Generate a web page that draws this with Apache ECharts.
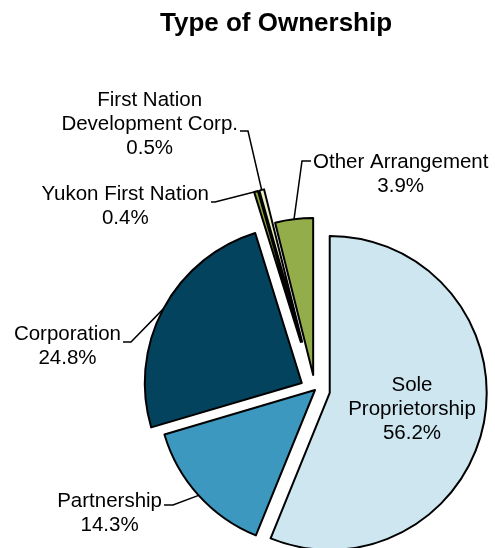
<!DOCTYPE html>
<html>
<head>
<meta charset="utf-8">
<script src="https://cdn.jsdelivr.net/npm/echarts@6/dist/echarts.min.js"></script>
<style>
  html, body { margin: 0; padding: 0; background: #fff; }
  #chart { width: 495px; height: 548px; }
</style>
</head>
<body>
<div id="chart"></div>
<script>
// data, clockwise from 12 o'clock
const names = ["Sole\nProprietorship", "Partnership", "Corporation", "Yukon First Nation", "First Nation\nDevelopment Corp.", "Other Arrangement"];
const values = [56.2, 14.3, 24.8, 0.4, 0.5, 3.9];
const colors = ["#cde6f0", "#3d98bf", "#03435e", "#8fa83c", "#e8eec0", "#93ad4a"];
const explode = [15, 0, 15, 50, 50, 15];

// label placement (text block anchor + where the leader line meets it)
const spots = [
  { x: 412, y: 409, align: "center" },
  { x: 162, y: 513, align: "right", lineY: 505, elbow: 9 },
  { x: 121, y: 346, align: "right", lineY: 342, elbow: 8 },
  { x: 209, y: 206, align: "right", lineY: 202, elbow: 4 },
  { x: 238, y: 124, align: "right", lineY: 131, elbow: 8 },
  { x: 313, y: 174, align: "left", lineY: 161, elbow: 9 }
];

const center = [315, 390];
const radius = 157;
const font = "Liberation Sans, Arial, sans-serif";

const total = values.reduce((a, b) => a + b, 0);
let acc = 0;

const series = values.map((v, i) => {
  const mid = (acc + v / 2) / total * 2 * Math.PI;
  acc += v;
  const cx = center[0] + explode[i] * Math.sin(mid);
  const cy = center[1] - explode[i] * Math.cos(mid);
  return {
    type: "pie",
    center: [cx, cy],
    radius: radius,
    startAngle: 90,
    clockwise: true,
    silent: true,
    animation: false,
    avoidLabelOverlap: false,
    label: {
      position: i === 0 ? "inside" : "outside",
      formatter: p => p.name.split("\n").concat(p.value.toFixed(1) + "%").map(s => "{c|" + s + "}").join("\n"),
      rich: {
        c: { align: "center", fontFamily: font, fontSize: 20.5, lineHeight: 24, color: "#000" }
      }
    },
    labelLine: { lineStyle: { color: "#000", width: 1.5 } },
    labelLayout: function (p) {
      const s = spots[p.dataIndex];
      const out = { x: s.x, y: s.y, align: s.align, verticalAlign: "middle" };
      if (s.lineY != null && p.labelLinePoints) {
        const side = s.align === "right" ? 1 : -1;
        const endX = s.x + side * 2;
        out.labelLinePoints = [p.labelLinePoints[0], [endX + side * s.elbow, s.lineY], [endX, s.lineY]];
      }
      return out;
    },
    data: values.map((w, j) => ({
      name: names[j],
      value: w,
      itemStyle: j === i
        ? { color: colors[j], borderColor: "#000", borderWidth: 2 }
        : { color: "rgba(0,0,0,0)", borderWidth: 0 },
      label: { show: j === i },
      labelLine: { show: j === i && i !== 0 }
    }))
  };
});

const chart = echarts.init(document.getElementById("chart"));
chart.setOption({
  backgroundColor: "#fff",
  title: {
    text: "Type of Ownership",
    left: 155,
    top: 6,
    textStyle: { fontFamily: font, fontWeight: "bold", fontSize: 26, color: "#000" }
  },
  series: series
});
</script>
</body>
</html>
